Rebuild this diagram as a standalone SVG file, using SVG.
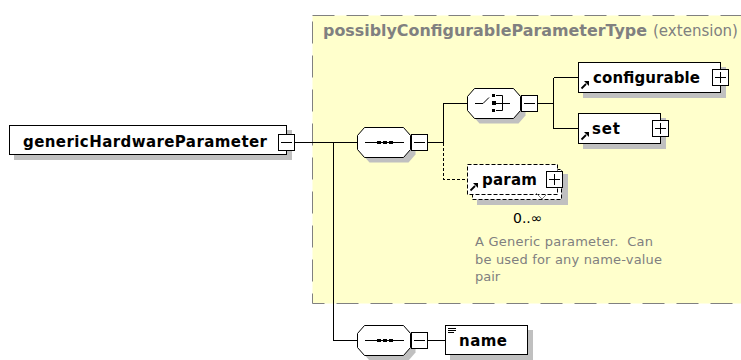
<svg xmlns="http://www.w3.org/2000/svg" width="741" height="360" viewBox="0 0 741 360">
<style>
.bg{fill:#ffffcc;stroke:#808080;stroke-width:1;stroke-dasharray:22 12}
.sh{fill:#c0c0c0;stroke:none}
.box{fill:#fff;stroke:#000;stroke-width:1}
.dbox{fill:#fff;stroke:#000;stroke-width:1;stroke-dasharray:4 2}
.ln{fill:none;stroke:#000;stroke-width:1}
.dl{fill:none;stroke:#000;stroke-width:1;stroke-dasharray:3 2}
.lbl{font-family:"DejaVu Sans",Verdana,sans-serif;font-weight:bold;font-size:15px;fill:#000}
.ttl{font-family:"DejaVu Sans",Verdana,sans-serif;font-size:15px;fill:#808080}
.ann{font-family:"DejaVu Sans",Verdana,sans-serif;font-size:13px;fill:#808080}
.occ{font-family:"DejaVu Sans",Verdana,sans-serif;font-size:14px;fill:#000}
</style>
<defs>
<g id="minus"><rect class="box" x="0.5" y="0.5" width="16" height="16"/><path class="ln" d="M3 8.5H14"/></g>
<g id="plus"><rect class="box" x="0.5" y="0.5" width="16" height="16"/><path class="ln" d="M3 8.5H14M8.5 3V14"/></g>
<path id="hex" d="M7.5 0.5H46.5L53.5 8.5V22.5L46.5 30.5H7.5L0.5 22.5V8.5Z"/>
<g id="ref"><path d="M0.5 7.5L5 3" stroke="#000" stroke-width="1.8" fill="none"/><path d="M3 0H8V5Z" fill="#000"/></g>
<g id="seqicon"><path class="ln" d="M8 15.5H47"/><rect x="20" y="14" width="4" height="3"/><rect x="26" y="14" width="4" height="3"/><rect x="32" y="14" width="4" height="3"/></g>
</defs>

<g id="extension-area">
<rect class="bg" x="312.5" y="15.5" width="440" height="288"/>
<text class="ttl" x="323" y="36" font-weight="bold" font-size="14" textLength="324" lengthAdjust="spacingAndGlyphs">possiblyConfigurableParameterType</text>
<text class="ttl" x="653" y="36" textLength="85" lengthAdjust="spacingAndGlyphs">(extension)</text>
</g>

<g id="connectors" shape-rendering="crispEdges">
<path class="ln" d="M295 142.5H357"/>
<path class="ln" d="M333.5 142.5V340.5H357"/>
<path class="ln" d="M428 142.5H443.5V103.5H467"/>
<path class="dl" d="M443.5 142.5V179.5H467"/>
<path class="ln" d="M538 103.5H553.5M553.5 77.5V128.5M553.5 77.5H578M553.5 128.5H578"/>
<path class="ln" d="M428 340.5H445"/>
</g>

<g id="genericHardwareParameter">
<rect class="sh" x="14" y="130" width="278" height="30"/>
<rect class="box" x="9.5" y="125.5" width="277" height="29"/>
<text class="lbl" x="23" y="147" textLength="244" lengthAdjust="spacing">genericHardwareParameter</text>
<use href="#minus" x="278" y="134"/>
</g>

<g id="sequence1">
<use href="#hex" x="362" y="132" class="sh"/>
<use href="#hex" x="357" y="127" class="box"/>
<use href="#seqicon" x="357" y="127"/>
<use href="#minus" x="411" y="134"/>
</g>

<g id="choice">
<use href="#hex" x="472" y="93" class="sh"/>
<use href="#hex" x="467" y="88" class="box"/>
<path class="ln" d="M475 103.5H483L489 97.5"/>
<rect x="492" y="94" width="3" height="3"/>
<rect x="492" y="101" width="4" height="4"/>
<rect x="492" y="109" width="3" height="3"/>
<path class="ln" d="M496 95.5H502.5V110.5H496M496 103.5H510"/>
<use href="#minus" x="521" y="95"/>
</g>

<g id="configurable">
<rect class="sh" x="583" y="67" width="143" height="31"/>
<rect class="box" x="578.5" y="62.5" width="142" height="30"/>
<use href="#ref" x="581" y="81"/>
<text class="lbl" x="593" y="83" textLength="107" lengthAdjust="spacing">configurable</text>
<use href="#plus" x="712" y="69"/>
</g>

<g id="set">
<rect class="sh" x="583" y="118" width="83" height="31"/>
<rect class="box" x="578.5" y="113.5" width="82" height="30"/>
<use href="#ref" x="581" y="132"/>
<text class="lbl" x="592" y="134" textLength="28" lengthAdjust="spacing">set</text>
<use href="#plus" x="652" y="120"/>
</g>

<g id="param">
<rect class="sh" x="477" y="174" width="91" height="31"/>
<rect class="dbox" x="472.5" y="169.5" width="89" height="30"/>
<rect class="dbox" x="467.5" y="164.5" width="90" height="30"/>
<use href="#ref" x="470" y="183"/>
<text class="lbl" x="482" y="185" textLength="55" lengthAdjust="spacing">param</text>
<use href="#plus" x="546" y="171"/>
<path d="M536 193L542 199L546 195" fill="none" stroke="#808080" stroke-width="1"/>
<text class="occ" x="513" y="223">0..∞</text>
<text class="ann" x="475" y="246" textLength="178" lengthAdjust="spacing" xml:space="preserve">A Generic parameter.  Can</text>
<text class="ann" x="475" y="264" textLength="187" lengthAdjust="spacing">be used for any name-value</text>
<text class="ann" x="475" y="281">pair</text>
</g>

<g id="sequence2">
<use href="#hex" x="362" y="330" class="sh"/>
<use href="#hex" x="357" y="325" class="box"/>
<use href="#seqicon" x="357" y="325"/>
<use href="#minus" x="411" y="332"/>
</g>

<g id="name">
<rect class="sh" x="450" y="330" width="83" height="30"/>
<rect class="box" x="445.5" y="325.5" width="82" height="29"/>
<path class="ln" d="M448 328.5H456M448 330.5H456M448 332.5H454"/>
<text class="lbl" x="459" y="346" textLength="48" lengthAdjust="spacing">name</text>
</g>
</svg>
